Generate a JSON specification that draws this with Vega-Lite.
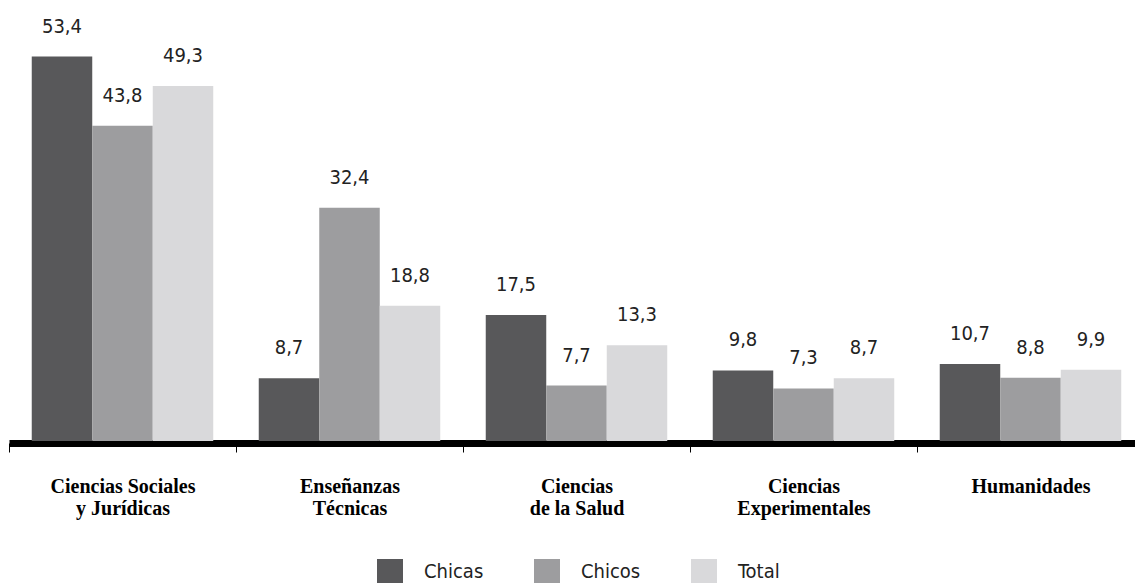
{
  "$schema": "https://vega.github.io/schema/vega-lite/v6.json",
  "width": 1126,
  "height": 432,
  "autosize": {"type": "none"},
  "padding": {"left": 9, "top": 9, "right": 0, "bottom": 142},
  "background": "white",
  "config": {
    "view": {"stroke": null},
    "locale": {"number": {"decimal": ",", "thousands": ".", "grouping": [3], "currency": ["", " €"]}}
  },
  "data": {
    "values": [
      {"area": "Ciencias Sociales y Jurídicas", "grupo": "Chicas", "pct": 53.4},
      {"area": "Ciencias Sociales y Jurídicas", "grupo": "Chicos", "pct": 43.8},
      {"area": "Ciencias Sociales y Jurídicas", "grupo": "Total", "pct": 49.3},
      {"area": "Enseñanzas Técnicas", "grupo": "Chicas", "pct": 8.7},
      {"area": "Enseñanzas Técnicas", "grupo": "Chicos", "pct": 32.4},
      {"area": "Enseñanzas Técnicas", "grupo": "Total", "pct": 18.8},
      {"area": "Ciencias de la Salud", "grupo": "Chicas", "pct": 17.5},
      {"area": "Ciencias de la Salud", "grupo": "Chicos", "pct": 7.7},
      {"area": "Ciencias de la Salud", "grupo": "Total", "pct": 13.3},
      {"area": "Ciencias Experimentales", "grupo": "Chicas", "pct": 9.8},
      {"area": "Ciencias Experimentales", "grupo": "Chicos", "pct": 7.3},
      {"area": "Ciencias Experimentales", "grupo": "Total", "pct": 8.7},
      {"area": "Humanidades", "grupo": "Chicas", "pct": 10.7},
      {"area": "Humanidades", "grupo": "Chicos", "pct": 8.8},
      {"area": "Humanidades", "grupo": "Total", "pct": 9.9}
    ]
  },
  "encoding": {
    "x": {
      "field": "area",
      "type": "nominal",
      "sort": ["Ciencias Sociales y Jurídicas", "Enseñanzas Técnicas", "Ciencias de la Salud", "Ciencias Experimentales", "Humanidades"],
      "scale": {"paddingInner": 0, "paddingOuter": 0, "range": [0, 1135]},
      "axis": {
        "title": null,
        "orient": "bottom",
        "domainColor": "#000000",
        "domainWidth": 7,
        "offset": 2,
        "tickColor": "#000000",
        "tickWidth": 1,
        "tickSize": 9,
        "tickBand": "extent",
        "labelAngle": 0,
        "labelFont": "Liberation Serif",
        "labelFontWeight": "bold",
        "labelFontSize": 20,
        "labelColor": "#000000",
        "labelPadding": 24,
        "labelBaseline": "top",
        "labelLineHeight": 22,
        "labelLimit": 300,
        "labelExpr": "datum.label == 'Ciencias Sociales y Jurídicas' ? ['Ciencias Sociales', 'y Jurídicas'] : datum.label == 'Enseñanzas Técnicas' ? ['Enseñanzas', 'Técnicas'] : datum.label == 'Ciencias de la Salud' ? ['Ciencias', 'de la Salud'] : datum.label == 'Ciencias Experimentales' ? ['Ciencias', 'Experimentales'] : datum.label"
      }
    },
    "xOffset": {
      "field": "grupo",
      "type": "nominal",
      "sort": ["Chicas", "Chicos", "Total"],
      "scale": {"paddingInner": 0, "paddingOuter": 0.376}
    },
    "y": {
      "field": "pct",
      "type": "quantitative",
      "scale": {"domain": [0, 60]},
      "axis": null
    }
  },
  "layer": [
    {
      "mark": {"type": "bar"},
      "encoding": {
        "color": {
          "field": "grupo",
          "type": "nominal",
          "sort": ["Chicas", "Chicos", "Total"],
          "scale": {"domain": ["Chicas", "Chicos", "Total"], "range": ["#58585a", "#9d9d9f", "#d9d9db"]},
          "legend": {
            "title": null,
            "orient": "none",
            "legendX": 368,
            "legendY": 550,
            "direction": "horizontal",
            "columns": 3,
            "gridAlign": "all",
            "padding": 0,
            "symbolType": "square",
            "symbolSize": 676,
            "symbolStrokeWidth": 0,
            "symbolOpacity": 1,
            "labelFont": "DejaVu Sans Condensed, sans-serif",
            "labelFontSize": 20,
            "labelColor": "#222222",
            "labelOffset": 21,
            "labelLimit": 200,
            "columnPadding": 50
          }
        }
      }
    },
    {
      "mark": {
        "type": "text",
        "dy": -24,
        "baseline": "alphabetic",
        "align": "center",
        "font": "DejaVu Sans Condensed, sans-serif",
        "fontSize": 20,
        "color": "#222222"
      },
      "encoding": {
        "text": {"field": "pct", "type": "quantitative", "format": ".1f"}
      }
    }
  ]
}
